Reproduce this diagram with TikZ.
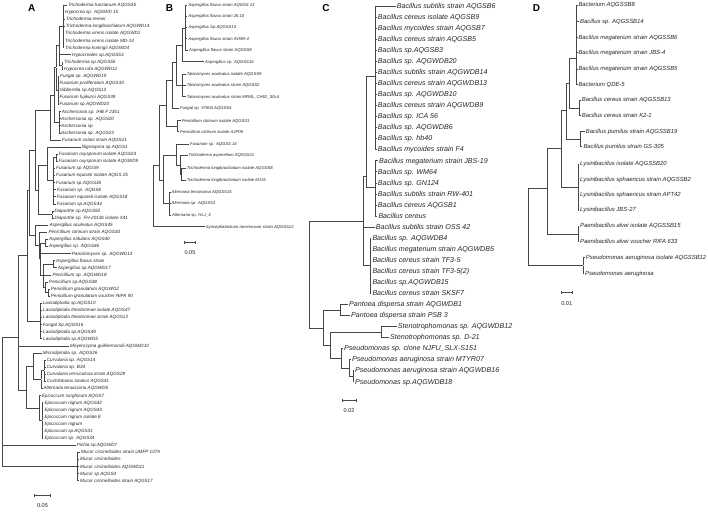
\documentclass[tikz,border=0pt]{standalone}
\usepackage{fontspec}
\setmainfont{Liberation Sans}
\usetikzlibrary{arrows.meta}

\begin{document}
\begin{tikzpicture}[x=1pt, y=-1pt,
    branch/.style={draw=black!72, line width=0.6pt},
    elbow/.style={branch, to path={|- (\tikztotarget)}},
    jn/.style={inner sep=0pt, minimum size=0pt},
    leaf/.style={anchor=west, inner xsep=1pt, inner ysep=0pt, text=black!85},
    leafA/.style={leaf, font=\itshape\fontsize{4.6}{5.5}\selectfont, text height=3.4pt, text depth=0.4pt},
    leafB/.style={leaf, font=\itshape\fontsize{4.2}{5}\selectfont, text height=3.1pt, text depth=0.4pt},
    leafC/.style={leaf, font=\itshape\fontsize{7.1}{8}\selectfont, text height=5.2pt, text depth=0.6pt},
    leafD/.style={leaf, font=\itshape\fontsize{5.9}{7}\selectfont, text height=4.4pt, text depth=0.5pt},
    panel/.style={inner sep=0pt, font=\bfseries\fontsize{10}{12}\selectfont},
    scalebar/.style={branch, arrows={Bar[width=3pt]-Bar[width=3pt]}},
    scaletext/.style={inner sep=0pt, text=black!85, font=\fontsize{5.6}{6.5}\selectfont}
]
\fill[white] (0,0) rectangle (708,511);
\useasboundingbox (0,0) rectangle (708,511);

% Panel letters
\node[panel] (labA) at (31.7,8) {A};
\node[panel] (labB) at (169.5,8) {B};
\node[panel] (labC) at (326,8) {C};
\node[panel] (labD) at (536.5,8) {D};

%%%%%%%%%%%%%%%% Panel A: fungi
% Leaves
\node[leafA] (a1) at (67,5.0) {Trichoderma harzianum AQGS35};
\node[leafA] (a2) at (64,12.1) {Hypocrea sp. AQGWD 15};
\node[leafA] (a3) at (65,19.2) {Trichoderma reesei};
\node[leafA] (a4) at (64.7,26.3) {Trichoderma longibrachiatum AQGWD14};
\node[leafA] (a5) at (64,33.4) {Trichoderma virens isolate AQGWD1};
\node[leafA] (a6) at (64,40.5) {Trichoderma virens isolate MD-14};
\node[leafA] (a7) at (64,47.6) {Trichoderma koningii AQGWD4};
\node[leafA] (a8) at (71,54.7) {Hypocreales sp.AQGS53};
\node[leafA] (a9) at (63,61.8) {Trichoderma sp AQGS55};
\node[leafA] (a10) at (63,68.9) {Hypocrea rufa AQGWD12};
\node[leafA] (a11) at (59,76.0) {Fungal sp. AQGWD19};
\node[leafA] (a12) at (58.3,83.1) {Fusarium proliferatum AQGS33};
\node[leafA] (a13) at (58.3,90.2) {Gibberella sp.AQGS13};
\node[leafA] (a14) at (58.3,97.3) {Fusarium fujikuroi AQGS39};
\node[leafA] (a15) at (58.3,104.4) {Fusarium sp.AQGWD20};
\node[leafA] (a16) at (60.7,111.5) {Aschersonia sp. IHB F 2351};
\node[leafA] (a17) at (60,118.6) {Aschersonia sp. AQGS20};
\node[leafA] (a18) at (60,125.7) {Aschersonia sp.};
\node[leafA] (a19) at (60,132.8) {Aschersonia sp. AQGS23};
\node[leafA] (a20) at (61,139.9) {Fusarium solani strain AQGS21};
\node[leafA] (a21) at (80.7,147.0) {Nigrospora sp.AQGS1};
\node[leafA] (a22) at (57.7,154.1) {Fusarium oxysporum isolate AQGS24};
\node[leafA] (a23) at (57.7,161.2) {Fusarium oxysporum isolate AQGWD9};
\node[leafA] (a24) at (55,168.3) {Fusarium sp AQGS9};
\node[leafA] (a25) at (55,175.4) {Fusarium equiseti isolate AQGS 25};
\node[leafA] (a26) at (55,182.5) {Fusarium sp.AQGS35};
\node[leafA] (a27) at (55.7,189.6) {Fusarium sp. AQGS8};
\node[leafA] (a28) at (55.7,196.7) {Fusarium equiseti isolate AQGS18};
\node[leafA] (a29) at (55.7,203.8) {Fusarium sp.AQGS44};
\node[leafA] (a30) at (53.3,210.9) {Diaporthe sp.AQGS50};
\node[leafA] (a31) at (53.3,218.0) {Diaporthe sp. FH-2013b isolate X41};
\node[leafA] (a32) at (48.3,225.1) {Aspergillus aculeatus AQGS45};
\node[leafA] (a33) at (47.3,232.2) {Penicillium citrinum strain AQGS30};
\node[leafA] (a34) at (48,239.3) {Aspergillus nidulans AQGS40};
\node[leafA] (a35) at (48,246.4) {Aspergillus sp. AQGS46};
\node[leafA] (a36) at (70.7,253.5) {Paecilomyces sp. AQGWD13};
\node[leafA] (a37) at (55,260.6) {Aspergillus flavus strain};
\node[leafA] (a38) at (56.7,267.7) {Aspergillus sp.AQGWD17};
\node[leafA] (a39) at (51.3,274.8) {Penicillium sp. AQGWD18};
\node[leafA] (a40) at (48,281.9) {Penicillium sp.AQGS38};
\node[leafA] (a41) at (49.7,289.0) {Penicillium granulatum AQGWD2};
\node[leafA] (a42) at (49.7,296.1) {Penicillium granulatum voucher RIPA 90};
\node[leafA] (a43) at (41.7,303.2) {Lasiodiplodia sp.AQGS10};
\node[leafA] (a44) at (42,310.3) {Lasiodiplodia theobromae isolate AQGS47};
\node[leafA] (a45) at (42,317.4) {Lasiodiplodia theobromae strain AQGS12};
\node[leafA] (a46) at (41.7,324.5) {Fungal Sp.AQGS16};
\node[leafA] (a47) at (42,331.6) {Lasiodiplodia sp.AQGS49};
\node[leafA] (a48) at (42,338.7) {Lasiodiplodia sp.AQGWD5};
\node[leafA] (a49) at (69,345.8) {Meyerozyma guilliermondii AQGWD10};
\node[leafA] (a50) at (41.7,352.9) {Microdiplodia sp. AQGS26};
\node[leafA] (a51) at (45.7,360.0) {Curvularia sp. AQGS14};
\node[leafA] (a52) at (45.7,367.1) {Curvularia sp. B34};
\node[leafA] (a53) at (45.7,374.2) {Curvularia verruculosa strain AQGS29};
\node[leafA] (a54) at (45.7,381.3) {Cochliobolus lunatus AQGS41};
\node[leafA] (a55) at (42.3,388.4) {Alternaria tenuissima AQGWD6};
\node[leafA] (a56) at (40.7,395.5) {Epicoccum sorghinum AQGS7};
\node[leafA] (a57) at (43.3,402.6) {Epicoccum nigrum AQGS42};
\node[leafA] (a58) at (43.3,409.7) {Epicoccum nigrum AQGS43};
\node[leafA] (a59) at (43.3,416.8) {Epicoccum nigrum isolate E};
\node[leafA] (a60) at (43.3,423.9) {Epicoccum nigrum};
\node[leafA] (a61) at (43.3,431.0) {Epicoccum sp.AQGS31};
\node[leafA] (a62) at (43.3,438.1) {Epicoccum sp. AQGS34};
\node[leafA] (a63) at (75.7,445.2) {Pichia sp.AQGWD7};
\node[leafA] (a64) at (80,452.3) {Mucor circinelloides strain UMFP 1079};
\node[leafA] (a65) at (79,459.4) {Mucor circinelloides};
\node[leafA] (a66) at (79,466.5) {Mucor circinelloides AQGWD11};
\node[leafA] (a67) at (79,473.6) {Mucor sp AQGS4};
\node[leafA] (a68) at (79,480.7) {Mucor circinelloides strain AQGS17};

% Junctions
\node[jn] (aT1) at (63.3,26.3) {};
\node[jn] (aT2) at (62.3,65.4) {};
\node[jn] (aTri) at (59.5,45) {};
\node[jn] (aFus1) at (58,90.2) {};
\node[jn] (aAsch) at (59.5,122) {};
\node[jn] (aHyp1) at (56.5,67.6) {};
\node[jn] (aHyp2) at (54,95) {};
\node[jn] (aHyp) at (50,110) {};
\node[jn] (aFox) at (56.7,157.6) {};
\node[jn] (aFus2) at (53.5,180) {};
\node[jn] (aNig) at (47.7,165) {};
\node[jn] (aDia) at (52.5,214.5) {};
\node[jn] (aSord2) at (38.5,190) {};
\node[jn] (aSord) at (35.7,150) {};
\node[jn] (aAnid) at (45,242.9) {};
\node[jn] (aAfl) at (53.3,264.2) {};
\node[jn] (aPen1) at (48.7,292.6) {};
\node[jn] (aPen2) at (45,287.2) {};
\node[jn] (aPen3) at (43.3,275) {};
\node[jn] (aEur2) at (40.5,258) {};
\node[jn] (aEur1) at (39,245) {};
\node[jn] (aEur) at (35,235) {};
\node[jn] (aSE) at (29.3,190) {};
\node[jn] (aLas) at (40,321) {};
\node[jn] (aPez1) at (27,255) {};
\node[jn] (aCur) at (44.3,370.6) {};
\node[jn] (aPle) at (41.5,379.5) {};
\node[jn] (aDot1) at (33,366) {};
\node[jn] (aEpi1) at (42.3,420.3) {};
\node[jn] (aEpi) at (39.5,408) {};
\node[jn] (aDoth) at (26,390) {};
\node[jn] (aPez) at (18,337) {};
\node[jn] (aMuc) at (77.3,466.5) {};
\node[jn] (aRoot) at (2.7,400) {};

% Branches
\path (aT1) edge[elbow] (a1.west) edge[elbow] (a2.west) edge[elbow] (a3.west) edge[elbow] (a4.west)
      edge[elbow] (a5.west) edge[elbow] (a6.west) edge[elbow] (a7.west);
\path (aT2) edge[elbow] (a9.west) edge[elbow] (a10.west);
\path (aTri) edge[elbow] (aT1) edge[elbow] (a8.west) edge[elbow] (aT2);
\path (aFus1) edge[elbow] (a11.west) edge[elbow] (a12.west) edge[elbow] (a13.west) edge[elbow] (a14.west) edge[elbow] (a15.west);
\path (aAsch) edge[elbow] (a16.west) edge[elbow] (a17.west) edge[elbow] (a18.west) edge[elbow] (a19.west);
\path (aHyp1) edge[elbow] (aTri) edge[elbow] (aFus1);
\path (aHyp2) edge[elbow] (aHyp1) edge[elbow] (aAsch);
\path (aHyp) edge[elbow] (aHyp2) edge[elbow] (a20.west);
\path (aFox) edge[elbow] (a22.west) edge[elbow] (a23.west);
\path (aFus2) edge[elbow] (aFox) edge[elbow] (a24.west) edge[elbow] (a25.west) edge[elbow] (a26.west)
      edge[elbow] (a27.west) edge[elbow] (a28.west) edge[elbow] (a29.west);
\path (aNig) edge[elbow] (a21.west) edge[elbow] (aFus2);
\path (aDia) edge[elbow] (a30.west) edge[elbow] (a31.west);
\path (aSord2) edge[elbow] (aNig) edge[elbow] (aDia);
\path (aSord) edge[elbow] (aHyp) edge[elbow] (aSord2);
\path (aAnid) edge[elbow] (a34.west) edge[elbow] (a35.west);
\path (aAfl) edge[elbow] (a37.west) edge[elbow] (a38.west);
\path (aPen1) edge[elbow] (a41.west) edge[elbow] (a42.west);
\path (aPen2) edge[elbow] (a40.west) edge[elbow] (aPen1);
\path (aPen3) edge[elbow] (aAfl) edge[elbow] (a39.west) edge[elbow] (aPen2);
\path (aEur2) edge[elbow] (aAnid) edge[elbow] (a36.west) edge[elbow] (aPen3);
\path (aEur1) edge[elbow] (a33.west) edge[elbow] (aEur2);
\path (aEur) edge[elbow] (a32.west) edge[elbow] (aEur1);
\path (aSE) edge[elbow] (aSord) edge[elbow] (aEur);
\path (aLas) edge[elbow] (a43.west) edge[elbow] (a44.west) edge[elbow] (a45.west) edge[elbow] (a46.west)
      edge[elbow] (a47.west) edge[elbow] (a48.west);
\path (aPez1) edge[elbow] (aSE) edge[elbow] (aLas);
\path (aCur) edge[elbow] (a51.west) edge[elbow] (a52.west) edge[elbow] (a53.west) edge[elbow] (a54.west);
\path (aPle) edge[elbow] (aCur) edge[elbow] (a55.west);
\path (aDot1) edge[elbow] (a50.west) edge[elbow] (aPle);
\path (aEpi1) edge[elbow] (a57.west) edge[elbow] (a58.west) edge[elbow] (a59.west) edge[elbow] (a60.west)
      edge[elbow] (a61.west) edge[elbow] (a62.west);
\path (aEpi) edge[elbow] (a56.west) edge[elbow] (aEpi1);
\path (aDoth) edge[elbow] (aDot1) edge[elbow] (aEpi);
\path (aPez) edge[elbow] (aPez1) edge[elbow] (a49.west) edge[elbow] (aDoth);
\path (aMuc) edge[elbow] (a64.west) edge[elbow] (a65.west) edge[elbow] (a66.west) edge[elbow] (a67.west) edge[elbow] (a68.west);
\path (aRoot) edge[elbow] (aPez) edge[elbow] (a63.west) edge[elbow] (aMuc);

% Scale bar
\coordinate (sbA1) at (34.3,495.7);
\coordinate (sbA2) at (50.7,495.7);
\draw[scalebar] (sbA1) -- (sbA2);
\node[scaletext] (sbAt) at (42.5,506) {0.05};

%%%%%%%%%%%%%%%% Panel B
% Leaves
\node[leafB] (b1) at (187.3,5.3) {Aspergillus flavus strain AQGSS 13};
\node[leafB] (b2) at (187.3,16.0) {Aspergillus flavus strain 26.10};
\node[leafB] (b3) at (187.3,27.3) {Aspergillus Sp.AQGSS10};
\node[leafB] (b4) at (187.3,38.7) {Aspergillus flavus strain AVNR-4};
\node[leafB] (b5) at (188,50.0) {Aspergillus flavus strain AQGSS8};
\node[leafB] (b6) at (204,61.7) {Aspergillus sp. AQGSS16};
\node[leafB] (b7) at (185.7,74.0) {Talaromyces aculeatus isolate AQGSS9};
\node[leafB] (b8) at (185.7,85.3) {Talaromyces aculeatus strain AQGSS2};
\node[leafB] (b9) at (185.7,96.7) {Talaromyces aculeatus strain MFML\_CH62\_S0c4};
\node[leafB] (b10) at (179,108.3) {Fungal sp. 57604 AQGSS4};
\node[leafB] (b11) at (180.7,120.7) {Penicillium citrinum isolate AQGSS1};
\node[leafB] (b12) at (179,131.7) {Penicillium citrinum isolate AJP09};
\node[leafB] (b13) at (189,144.0) {Fusarium sp. AQGSS 14};
\node[leafB] (b14) at (187.5,155.5) {Trichoderma asperellum AQGSS11};
\node[leafB] (b15) at (185.7,168.3) {Trichoderma longibrachiatum isolate AQGSS8};
\node[leafB] (b16) at (185.7,180.0) {Trichoderma longibrachiatum isolate MJ15};
\node[leafB] (b17) at (170.5,192.3) {Alternaria tenuissima AQGSS15};
\node[leafB] (b18) at (170.5,203.3) {Alternaria sp. AQGSS3};
\node[leafB] (b19) at (171,215.5) {Alternaria sp. HLJ\_3};
\node[leafB] (b20) at (204.7,226.7) {Syncephalastrum racemosum strain AQGSS12};

% Junctions
\node[jn] (bAfl) at (185.7,28) {};
\node[jn] (bAsp) at (182.3,45) {};
\node[jn] (bTal) at (182.3,85.3) {};
\node[jn] (bEur1) at (176.7,62) {};
\node[jn] (bEur2) at (172,80) {};
\node[jn] (bPen) at (177.7,126) {};
\node[jn] (bEur) at (166.7,105) {};
\node[jn] (bTri1) at (181.7,174) {};
\node[jn] (bTri) at (180,165) {};
\node[jn] (bHyp) at (176.7,155) {};
\node[jn] (bAlt) at (169.3,203.3) {};
\node[jn] (bX) at (163.5,180) {};
\node[jn] (bAsc) at (159.5,165) {};
\node[jn] (bRoot) at (153.3,200) {};

% Branches
\path (bAfl) edge[elbow] (b1.west) edge[elbow] (b2.west) edge[elbow] (b3.west) edge[elbow] (b4.west) edge[elbow] (b5.west);
\path (bAsp) edge[elbow] (bAfl) edge[elbow] (b6.west);
\path (bTal) edge[elbow] (b7.west) edge[elbow] (b8.west) edge[elbow] (b9.west);
\path (bEur1) edge[elbow] (bAsp) edge[elbow] (bTal);
\path (bEur2) edge[elbow] (bEur1) edge[elbow] (b10.west);
\path (bPen) edge[elbow] (b11.west) edge[elbow] (b12.west);
\path (bEur) edge[elbow] (bEur2) edge[elbow] (bPen);
\path (bTri1) edge[elbow] (b15.west) edge[elbow] (b16.west);
\path (bTri) edge[elbow] (b14.west) edge[elbow] (bTri1);
\path (bHyp) edge[elbow] (b13.west) edge[elbow] (bTri);
\path (bAlt) edge[elbow] (b17.west) edge[elbow] (b18.west) edge[elbow] (b19.west);
\path (bX) edge[elbow] (bHyp) edge[elbow] (bAlt);
\path (bAsc) edge[elbow] (bEur) edge[elbow] (bX);
\path (bRoot) edge[elbow] (bAsc) edge[elbow] (b20.west);

% Scale bar
\coordinate (sbB1) at (184.3,242.3);
\coordinate (sbB2) at (195.7,242.3);
\draw[scalebar] (sbB1) -- (sbB2);
\node[scaletext] (sbBt) at (190,252.7) {0.05};

%%%%%%%%%%%%%%%% Panel C: bacteria
% Leaves
\node[leafC] (c1) at (395.7,6.0) {Bacillus subtilis strain AQGSB6};
\node[leafC] (c2) at (376.7,17.05) {Bacillus cereus isolate AQGSB9};
\node[leafC] (c3) at (376.7,28.1) {Bacillus mycoides strain AQGSB7};
\node[leafC] (c4) at (376.7,39.15) {Bacillus cereus strain AQGSB5};
\node[leafC] (c5) at (376.7,50.2) {Bacillus sp.AQGSB3};
\node[leafC] (c6) at (376.7,61.25) {Bacillus sp. AQGWDB20};
\node[leafC] (c7) at (376.7,72.3) {Bacillus subtilis strain AQGWDB14};
\node[leafC] (c8) at (376.7,83.35) {Bacillus cereus strain AQGWDB13};
\node[leafC] (c9) at (376.7,94.4) {Bacillus sp. AQGWDB10};
\node[leafC] (c10) at (376.7,105.45) {Bacillus cereus strain AQGWDB9};
\node[leafC] (c11) at (376.7,116.5) {Bacillus sp. ICA 56};
\node[leafC] (c12) at (376.7,127.55) {Bacillus sp. AQGWDB6};
\node[leafC] (c13) at (376.7,138.6) {Bacillus sp. hb40};
\node[leafC] (c14) at (376.7,149.65) {Bacillus mycoides strain F4};
\node[leafC] (c15) at (378,160.7) {Bacillus megaterium strain JBS-19};
\node[leafC] (c16) at (376.7,171.75) {Bacillus sp. WM64};
\node[leafC] (c17) at (376.7,182.8) {Bacillus sp. GN124};
\node[leafC] (c18) at (376.7,193.85) {Bacillus subtilis strain RW-401};
\node[leafC] (c19) at (376.7,204.9) {Bacillus cereus AQGSB1};
\node[leafC] (c20) at (377.3,215.95) {Bacillus cereus};
\node[leafC] (c21) at (374.7,227.0) {Bacillus subtilis strain OSS 42};
\node[leafC] (c22) at (371.3,238.05) {Bacillus sp. AQGWDB4};
\node[leafC] (c23) at (371.3,249.1) {Bacillus megaterium strain AQGWDB5};
\node[leafC] (c24) at (371.3,260.15) {Bacillus cereus strain TF3-5};
\node[leafC] (c25) at (371.3,271.2) {Bacillus cereus strain TF3-5(2)};
\node[leafC] (c26) at (371.3,282.25) {Bacillus sp.AQGWDB15};
\node[leafC] (c27) at (371.3,293.3) {Bacillus cereus strain SKSF7};
\node[leafC] (c28) at (348,304.35) {Pantoea dispersa strain AQGWDB1};
\node[leafC] (c29) at (350,315.4) {Pantoea dispersa strain PSB 3};
\node[leafC] (c30) at (396.7,326.45) {Stenotrophomonas sp. AQGWDB12};
\node[leafC] (c31) at (389,337.5) {Stenotrophomonas sp. D-21};
\node[leafC] (c32) at (343,348.55) {Pseudomonas sp. clone NJFU\_SLX-S151};
\node[leafC] (c33) at (351,359.6) {Pseudomonas aeruginosa strain MTYR07};
\node[leafC] (c34) at (354,370.65) {Pseudomonas aeruginosa strain AQGWDB16};
\node[leafC] (c35) at (354,381.7) {Pseudomonas sp.AQGWDB18};

% Junctions
\node[jn] (cB1) at (375.7,76.7) {};
\node[jn] (cB2) at (375.7,187) {};
\node[jn] (cBa) at (366.7,176) {};
\node[jn] (cBc) at (370.3,265.7) {};
\node[jn] (cBac) at (363,221.7) {};
\node[jn] (cPan) at (340,310) {};
\node[jn] (cSte) at (381.7,332) {};
\node[jn] (cPse1) at (353,376) {};
\node[jn] (cPse2) at (349.5,368) {};
\node[jn] (cPse) at (341.5,358) {};
\node[jn] (cGam) at (330,345) {};
\node[jn] (cPro) at (323.3,328) {};
\node[jn] (cRoot) at (309.3,280) {};

% Branches
\path (cB1) edge[elbow] (c1.west) edge[elbow] (c2.west) edge[elbow] (c3.west) edge[elbow] (c4.west)
      edge[elbow] (c5.west) edge[elbow] (c6.west) edge[elbow] (c7.west) edge[elbow] (c8.west)
      edge[elbow] (c9.west) edge[elbow] (c10.west) edge[elbow] (c11.west) edge[elbow] (c12.west)
      edge[elbow] (c13.west) edge[elbow] (c14.west);
\path (cB2) edge[elbow] (c15.west) edge[elbow] (c16.west) edge[elbow] (c17.west) edge[elbow] (c18.west)
      edge[elbow] (c19.west) edge[elbow] (c20.west);
\path (cBa) edge[elbow] (cB1) edge[elbow] (cB2);
\path (cBc) edge[elbow] (c22.west) edge[elbow] (c23.west) edge[elbow] (c24.west) edge[elbow] (c25.west)
      edge[elbow] (c26.west) edge[elbow] (c27.west);
\path (cBac) edge[elbow] (cBa) edge[elbow] (c21.west) edge[elbow] (cBc);
\path (cPan) edge[elbow] (c28.west) edge[elbow] (c29.west);
\path (cSte) edge[elbow] (c30.west) edge[elbow] (c31.west);
\path (cPse1) edge[elbow] (c34.west) edge[elbow] (c35.west);
\path (cPse2) edge[elbow] (c33.west) edge[elbow] (cPse1);
\path (cPse) edge[elbow] (c32.west) edge[elbow] (cPse2);
\path (cGam) edge[elbow] (cSte) edge[elbow] (cPse);
\path (cPro) edge[elbow] (cPan) edge[elbow] (cGam);
\path (cRoot) edge[elbow] (cBac) edge[elbow] (cPro);

% Scale bar
\coordinate (sbC1) at (341.5,400);
\coordinate (sbC2) at (356.5,400);
\draw[scalebar] (sbC1) -- (sbC2);
\node[scaletext] (sbCt) at (349,410.5) {0.02};

%%%%%%%%%%%%%%%% Panel D
% Leaves
\node[leafD] (d1) at (577.3,5.0) {Bacterium AQGSSB8};
\node[leafD] (d2) at (579,21.7) {Bacillus sp. AQGSSB14};
\node[leafD] (d3) at (577.3,37.3) {Bacillus megaterium strain AQGSSB6};
\node[leafD] (d4) at (577.3,52.7) {Bacillus megaterium strain JBS-4};
\node[leafD] (d5) at (577.3,69.0) {Bacillus megaterium strain AQGSSB5};
\node[leafD] (d6) at (577.3,84.3) {Bacterium QDE-5};
\node[leafD] (d7) at (580.7,100.0) {Bacillus cereus strain AQGSSB13};
\node[leafD] (d8) at (580.7,115.7) {Bacillus cereus strain K2-1};
\node[leafD] (d9) at (584.7,131.7) {Bacillus pumilus strain AQGSSB19};
\node[leafD] (d10) at (582.3,146.7) {Bacillus pumilus strain GS-305};
\node[leafD] (d11) at (579,164.0) {Lysinibacillus isolate AQGSSB20};
\node[leafD] (d12) at (579,179.3) {Lysinibacillus sphaericus strain AQGSSB2};
\node[leafD] (d13) at (579,195.0) {Lysinibacillus sphaericus strain APT42};
\node[leafD] (d14) at (579,210.0) {Lysinibacillus JBS-27};
\node[leafD] (d15) at (579,226.0) {Paenibacillus alvei isolate AQGSSB15};
\node[leafD] (d16) at (579,241.7) {Paenibacillus alvei voucher RIFA 633};
\node[leafD] (d17) at (584.7,257.3) {Pseudomonas aeruginosa isolate AQGSSB12};
\node[leafD] (d18) at (584,273.3) {Pseudomonas aeruginosa};

% Junctions
\node[jn] (dBac1) at (576.7,58) {};
\node[jn] (dCer) at (579.3,107.8) {};
\node[jn] (dBacA) at (569.3,83) {};
\node[jn] (dPum) at (580.3,139.2) {};
\node[jn] (dBacB) at (566.7,110) {};
\node[jn] (dLys) at (578,187) {};
\node[jn] (dBacC) at (561.7,148) {};
\node[jn] (dPae) at (578.3,234) {};
\node[jn] (dFirm) at (547.7,188) {};
\node[jn] (dPse) at (583.3,265.3) {};
\node[jn] (dRoot) at (528,230) {};

% Branches
\path (dBac1) edge[elbow] (d1.west) edge[elbow] (d2.west) edge[elbow] (d3.west) edge[elbow] (d4.west)
      edge[elbow] (d5.west) edge[elbow] (d6.west);
\path (dCer) edge[elbow] (d7.west) edge[elbow] (d8.west);
\path (dBacA) edge[elbow] (dBac1) edge[elbow] (dCer);
\path (dPum) edge[elbow] (d9.west) edge[elbow] (d10.west);
\path (dBacB) edge[elbow] (dBacA) edge[elbow] (dPum);
\path (dLys) edge[elbow] (d11.west) edge[elbow] (d12.west) edge[elbow] (d13.west) edge[elbow] (d14.west);
\path (dBacC) edge[elbow] (dBacB) edge[elbow] (dLys);
\path (dPae) edge[elbow] (d15.west) edge[elbow] (d16.west);
\path (dFirm) edge[elbow] (dBacC) edge[elbow] (dPae);
\path (dPse) edge[elbow] (d17.west) edge[elbow] (d18.west);
\path (dRoot) edge[elbow] (dFirm) edge[elbow] (dPse);

% Scale bar
\coordinate (sbD1) at (561,292.7);
\coordinate (sbD2) at (572.3,292.7);
\draw[scalebar] (sbD1) -- (sbD2);
\node[scaletext] (sbDt) at (566.7,303.3) {0.01};

\end{tikzpicture}
\end{document}
